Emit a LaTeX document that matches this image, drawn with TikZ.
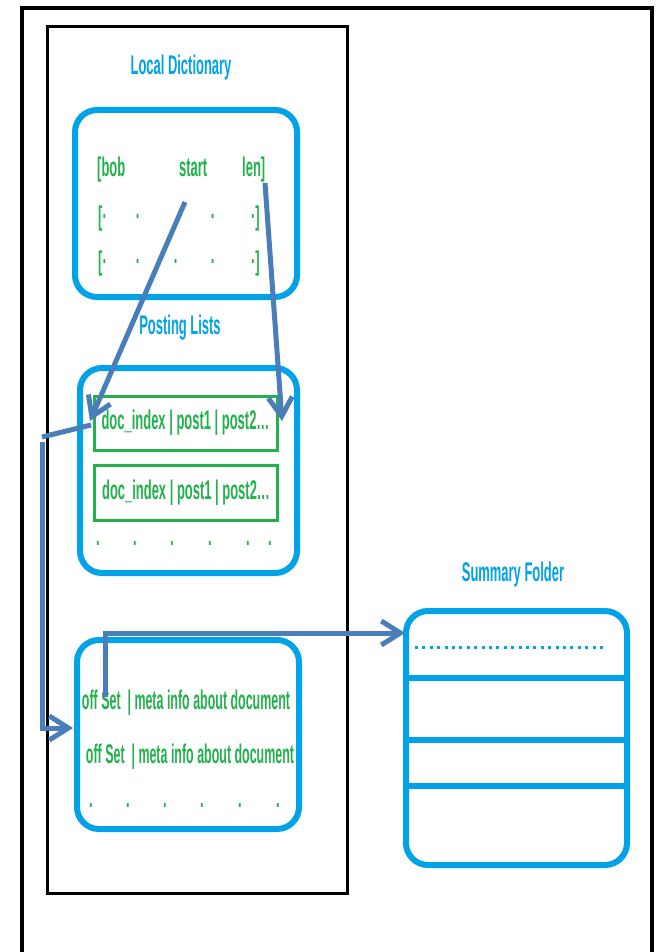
\documentclass[tikz,border=0pt]{standalone}
\usepackage{fontspec}
\setmainfont{Liberation Sans}[FakeStretch=0.48]
\usetikzlibrary{arrows.meta}
\definecolor{cy}{HTML}{00A2E8}
\definecolor{gr}{HTML}{22B14C}
\definecolor{ab}{HTML}{4A7EBB}
\begin{document}
\begin{tikzpicture}[x=1pt,y=-1pt,
  font=\bfseries\fontsize{27}{31}\selectfont,
  ttl/.style={text=cy, inner sep=0pt},
  gtxt/.style={text=gr, inner sep=0pt},
  box/.style={draw=cy, line width=6pt, rounded corners=22pt, inner sep=0pt},
  grect/.style={draw=gr, line width=3pt, text=gr, inner sep=0pt},
  sline/.style={draw=cy, line width=6pt},
  bline/.style={draw=ab, line width=5pt},
  arr/.style={bline, -{Straight Barb[length=19pt,width=24pt]}}]
\useasboundingbox (0,0) rectangle (658,952);
% outer frame (open at bottom)
\draw[line width=3.5pt] (22,952) -- (22,8) -- (652,8) -- (652,952);
% inner black frame
\node[draw, line width=3pt, minimum width=300pt, minimum height=866pt, inner sep=0pt] (frame) at (197,460) {};
% titles
\node[ttl] (tdict) at (181,68) {Local Dictionary};
\node[ttl] (tpost) at (180,328) {Posting Lists};
\node[ttl] (tsum) at (513,575) {Summary Folder};
% boxes
\node[box, minimum width=222pt, minimum height=187pt] (dict) at (186,203.5) {};
\node[box, minimum width=217pt, minimum height=205pt] (post) at (188.5,470.5) {};
\node[box, minimum width=222pt, minimum height=189pt] (meta) at (188,734.5) {};
\node[box, minimum width=221pt, minimum height=254pt] (sum) at (516.5,738) {};
% dictionary entries
\node[gtxt, anchor=base west] (bob) at (97,177) {[bob};
\node[gtxt, anchor=base west] (start) at (179,177) {start};
\node[gtxt, anchor=base west] (len) at (242,177) {len]};
\node[gtxt, anchor=base west] (r2a) at (98,225) {[·};
\node[gtxt, anchor=base] (r2b) at (138,225) {·};
\node[gtxt, anchor=base] (r2c) at (213,225) {·};
\node[gtxt, anchor=base east] (r2d) at (260,225) {·]};
\node[gtxt, anchor=base west] (r3a) at (98,270) {[·};
\node[gtxt, anchor=base] (r3b) at (138,270) {·};
\node[gtxt, anchor=base] (r3c) at (176,270) {·};
\node[gtxt, anchor=base] (r3d) at (213,270) {·};
\node[gtxt, anchor=base east] (r3e) at (260,270) {·]};
% posting lists
\node[grect, minimum width=183pt, minimum height=54pt] (pl1) at (185.5,423) {doc\_index | post1 | post2…};
\node[grect, minimum width=183pt, minimum height=55pt] (pl2) at (186,492.5) {doc\_index | post1 | post2…};
\foreach \x [count=\i] in {98,135,172,210,248,270}
  \node[gtxt, anchor=base] (pd\i) at (\x,545) {.};
% meta entries
\node[gtxt, xscale=0.96, transform shape] (m1) at (186,703) {off Set~ | meta info about document};
\node[gtxt, xscale=0.96, transform shape] (m2) at (190,757) {off Set~ | meta info about document};
\foreach \x [count=\i] in {91,128,165,202,240,278}
  \node[gtxt, anchor=base] (md\i) at (\x,807) {.};
% summary folder rows
\coordinate (y1) at (0,678);
\coordinate (y2) at (0,740);
\coordinate (y3) at (0,786);
\draw[sline] (sum.west |- y1) -- (sum.east |- y1);
\draw[sline] (sum.west |- y2) -- (sum.east |- y2);
\draw[sline] (sum.west |- y3) -- (sum.east |- y3);
\coordinate (d1) at (415,647);
\coordinate (d2) at (607,647);
\draw[cy, line width=3pt, dash pattern=on 3pt off 4.4pt] (d1) -- (d2);
% arrows
\coordinate (a1s) at (185,202);
\coordinate (a1e) at (90,421);
\coordinate (a2s) at (265,183);
\coordinate (a2e) at (282,421);
\draw[arr] (a1s) -- (a1e);
\draw[arr] (a2s) -- (a2e);
\coordinate (a3s) at (91,425);
\coordinate (a3k) at (42,437);
\coordinate (a3b) at (42,442);
\coordinate (a3c) at (42,728);
\coordinate (a3e) at (73,728);
\draw[bline] (a3s) -- (a3k);
\draw[arr] (a3b) -- (a3c) -- (a3e);
\coordinate (a4s) at (105,697);
\coordinate (a4c) at (105,633);
\coordinate (a4e) at (405,633);
\draw[arr] (a4s) -- (a4c) -- (a4e);
\end{tikzpicture}
\end{document}
